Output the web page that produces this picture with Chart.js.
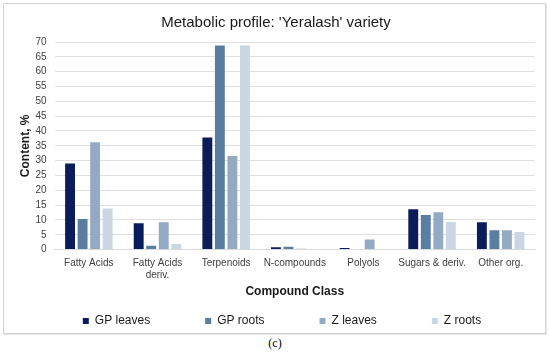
<!DOCTYPE html>
<html>
<head>
<meta charset="utf-8">
<script src="https://cdn.jsdelivr.net/npm/chart.js@4/dist/chart.umd.min.js"></script>
<style>
  html, body { margin: 0; padding: 0; background: #fff; }
  #frame { position: absolute; left: 3px; top: 3px; width: 541px; height: 329px;
           border: 1px solid #d4d4d4; box-shadow: 1px 1px 0 #e6e6e6; }
  #frame canvas { display: block; }
  #cap { position: absolute; left: 0; width: 550px; top: 336px; text-align: center;
         font-family: "Liberation Serif", "DejaVu Serif", serif; font-size: 12px; color: #000; }
</style>
</head>
<body>
<div id="frame"><canvas id="c" width="541" height="329"></canvas></div>
<div id="cap">(c)</div>
<script>
const categories = [['Fatty Acids'], ['Fatty Acids', 'deriv.'], ['Terpenoids'], ['N-compounds'], ['Polyols'], ['Sugars & deriv.'], ['Other org.']];
const seriesNames = ['GP leaves', 'GP roots', 'Z leaves', 'Z roots'];
const gpLeaves = [29.0, 8.9, 37.8, 0.8, 0.5, 13.6, 9.2];
const gpRoots  = [10.3, 1.3, 68.8, 1.0, 0.0, 11.7, 6.5];
const zLeaves  = [36.2, 9.2, 31.6, 0.3, 3.4, 12.6, 6.5];
const zRoots   = [13.9, 1.9, 68.8, 0.1, 0.0, 9.3, 5.9];
const colors = ['#0b1c5a', '#5a7ea2', '#94aac3', '#cad6e2'];
const yTicks = { min: 0, max: 70, step: 5 };

const font = "'Liberation Sans', Arial, sans-serif";
const allSeries = [gpLeaves, gpRoots, zLeaves, zRoots];

// keep the wide horizontal spacing of legend items without the matching vertical gap
const compactLegend = {
  id: 'compactLegend',
  beforeLayout(chart) {
    const lg = chart.legend;
    if (!lg || lg._compact) return;
    lg._compact = true;
    const fit = lg.fit, draw = lg._draw;
    const keep = 14, shiftX = 6, boxH = 28;
    lg.fit = function () { fit.call(this); this.height = boxH; };
    lg._draw = function () {
      const ctx = this.ctx;
      ctx.save();
      ctx.translate(shiftX, -(this.options.labels.padding - keep));
      draw.call(this);
      ctx.restore();
    };
  }
};

new Chart(document.getElementById('c'), {
  type: 'bar',
  data: {
    labels: categories,
    datasets: allSeries.map((d, i) => ({
      label: seriesNames[i],
      data: d,
      backgroundColor: colors[i],
      borderWidth: 0,
      categoryPercentage: 0.73,
      barPercentage: 0.79
    }))
  },
  options: {
    responsive: false,
    animation: false,
    layout: { padding: { left: 13, right: 10, top: 4, bottom: 4 } },
    plugins: {
      title: {
        display: true,
        text: "Metabolic profile: 'Yeralash' variety",
        font: { family: font, size: 15, weight: 'normal' },
        color: '#1a1a1a',
        padding: { top: 6, bottom: 10 }
      },
      legend: {
        position: 'bottom',
        labels: {
          font: { family: font, size: 12 },
          color: '#1a1a1a',
          boxWidth: 6,
          boxHeight: 6,
          padding: 55
        }
      },
      tooltip: { enabled: false }
    },
    scales: {
      x: {
        grid: { display: false },
        border: { color: '#d9d9d9' },
        ticks: { font: { family: font, size: 10 }, color: '#404040', maxRotation: 0, autoSkip: false, padding: 0 },
        title: { display: true, text: 'Compound Class', font: { family: font, size: 12, weight: 'bold' }, color: '#1a1a1a', padding: { top: 3, bottom: 2 } }
      },
      y: {
        min: yTicks.min,
        max: yTicks.max,
        grid: { color: '#e0e0e0', drawTicks: false },
        border: { display: false },
        ticks: { stepSize: yTicks.step, autoSkip: false, font: { family: font, size: 10 }, color: '#404040', padding: 8 },
        title: { display: true, text: 'Content, %', font: { family: font, size: 12, weight: 'bold' }, color: '#1a1a1a', padding: { top: 1, bottom: -5 } }
      }
    }
  },
  plugins: [compactLegend]
});
</script>
</body>
</html>
